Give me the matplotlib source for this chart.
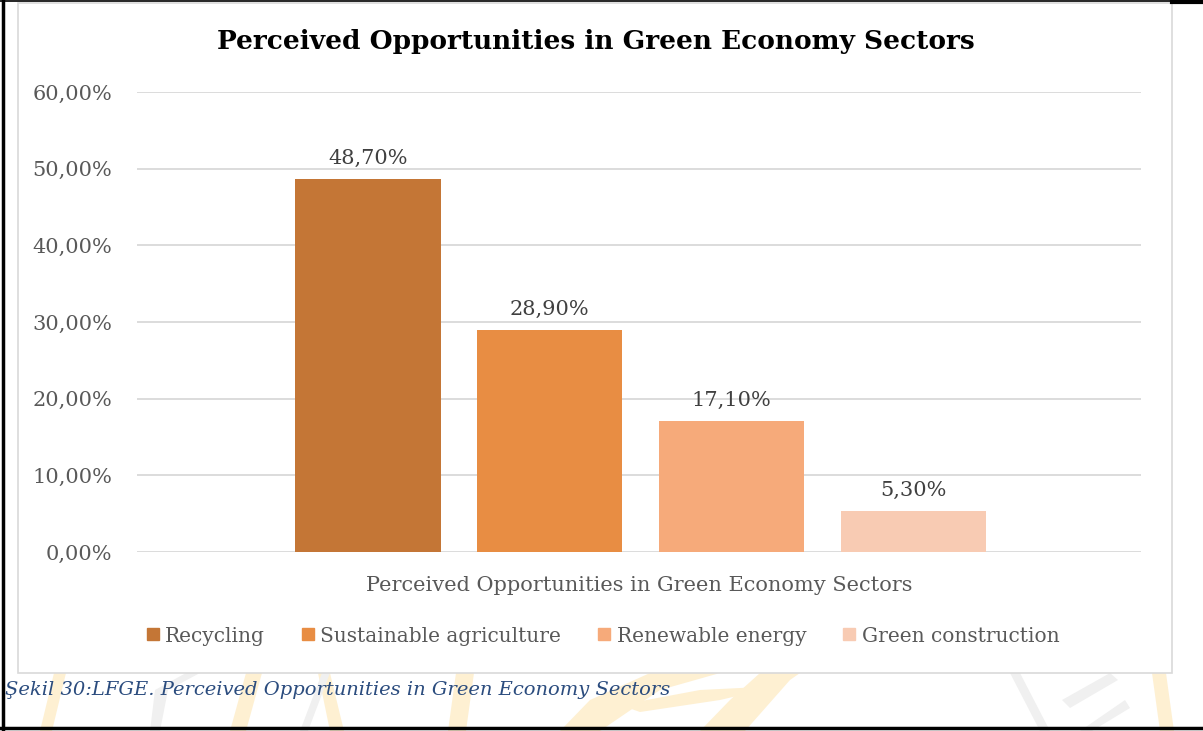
"""
Perceived opportunities in green economy sectors - bar chart
"""
import matplotlib
matplotlib.use("Agg")
import matplotlib.pyplot as plt
from matplotlib.lines import Line2D
from matplotlib.patches import Rectangle, Polygon
import numpy as np

sectors = ["Recycling", "Sustainable agriculture", "Renewable energy", "Green construction"]
shares = [48.70, 28.90, 17.10, 5.30]
colors = ["#C47636", "#E88D43", "#F6AA7A", "#F8CBB3"]
yticks = [0, 10, 20, 30, 40, 50, 60]
title = "Perceived Opportunities in Green Economy Sectors"
caption = "Şekil 30:LFGE. Perceived Opportunities in Green Economy Sectors"

plt.rcParams['font.family'] = ['DejaVu Serif']
gray_txt = "#595959"

fig = plt.figure(figsize=(12.03, 7.31), dpi=100)
W, H = 1203, 731

def fx(px):
  return px / W

def fy(py):
  return 1 - py / H

def to_fig(pts):
  return [(fx(a), fy(b)) for a, b in pts]

# faint page watermark (only its lower part shows under the chart box)
yel = "#FEF0D2"
gry = "#F0F0F0"
strokes = [
  ([(40, 731), (52, 731), (66, 673), (54, 673)], yel),
  ([(230, 731), (246, 731), (262, 673), (246, 673)], yel),
  ([(330, 731), (344, 731), (330, 673), (318, 673)], yel),
  ([(448, 731), (466, 731), (474, 673), (456, 673)], yel),
  ([(560, 731), (600, 731), (660, 690), (720, 673), (650, 673), (590, 700)], yel),
  ([(700, 731), (745, 731), (790, 680), (800, 673), (760, 673), (730, 700)], yel),
  ([(620, 705), (700, 690), (780, 686), (720, 700), (640, 712)], yel),
  ([(1160, 731), (1174, 731), (1166, 673), (1152, 673)], yel),
  ([(150, 731), (160, 731), (168, 690), (200, 673), (186, 673), (155, 690)], gry),
  ([(300, 731), (308, 731), (330, 673), (322, 673)], gry),
  ([(1010, 673), (1020, 673), (1050, 731), (1040, 731)], gry),
  ([(1062, 700), (1110, 673), (1118, 680), (1070, 708)], gry),
  ([(1080, 731), (1125, 700), (1130, 708), (1092, 731)], gry),
]
for pts, c in strokes:
  fig.patches.append(Polygon(to_fig(pts), closed=True, transform=fig.transFigure,
                             facecolor=c, edgecolor='none', zorder=0))

# chart box
fig.patches.append(Rectangle((fx(18), fy(673)), fx(1172) - fx(18), fy(3) - fy(673),
                             transform=fig.transFigure, facecolor='white',
                             edgecolor='#D9D9D9', linewidth=1.2, zorder=1))
# page frame
fig.add_artist(Line2D([fx(3), fx(3)], [fy(0), fy(729)], color='black', lw=2.5,
                      transform=fig.transFigure))
fig.add_artist(Line2D([0, 1], [fy(728), fy(728)], color='black', lw=2.5,
                      transform=fig.transFigure))
fig.add_artist(Line2D([0, fx(1172)], [fy(0.8), fy(0.8)], color='black', lw=1.2,
                      transform=fig.transFigure))
fig.add_artist(Line2D([fx(1172), 1], [fy(1.5), fy(1.5)], color='black', lw=3,
                      transform=fig.transFigure))

ax = fig.add_axes([fx(137), fy(552), fx(1141) - fx(137), fy(92) - fy(552)])
ax.set_zorder(2)
ax.patch.set_alpha(0)

x = np.arange(len(sectors))
bars = ax.bar(x, shares, width=0.8, color=colors, zorder=3)
ax.bar_label(bars, labels=[f"{v:.2f}%".replace('.', ',') for v in shares],
             padding=8, fontsize=15, color="#404040")

ax.set_ylim(0, 60)
ax.set_xlim(-1.269, 4.252)
ax.set_yticks(yticks)
ax.set_yticklabels([f"{v:.2f}%".replace('.', ',') for v in yticks])
ax.tick_params(axis='y', length=0, pad=18, labelsize=15, labelcolor=gray_txt)
ax.set_xticks([])
ax.grid(axis='y', color='#D9D9D9', linewidth=1.3, zorder=0)
for s in ax.spines.values():
  s.set_visible(False)
ax.set_xlabel(title, fontsize=15, color=gray_txt, labelpad=17)

fig.text(fx(596), fy(42), title, fontsize=19, fontweight='bold',
         ha='center', va='center', color='black', zorder=3)

handles = [Line2D([0], [0], linestyle='none', marker='s', markersize=9,
                  color=c, label=s) for s, c in zip(sectors, colors)]
fig.legend(handles=handles, loc='center', bbox_to_anchor=(fx(601), fy(636)),
           ncol=4, frameon=False, fontsize=14.5, labelcolor=gray_txt,
           handletextpad=0.1, columnspacing=1.65, handlelength=1.0)

fig.text(fx(5), fy(690), caption, fontsize=14, fontstyle='italic',
         color='#2B4C7E', ha='left', va='center', zorder=3)

fig.savefig('out.png', dpi=100)
